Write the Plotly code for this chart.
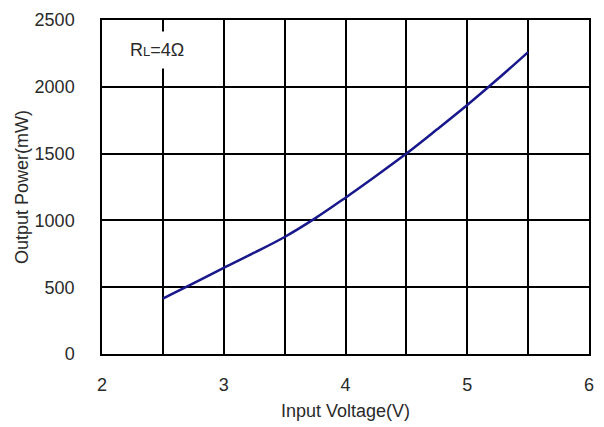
import plotly.graph_objects as go

voltage = [2.5, 2.75, 3.0, 3.25, 3.5, 3.75, 4.0, 4.25, 4.5, 4.75, 5.0, 5.25, 5.5]
power = [415, 528, 645, 758, 876, 1015, 1170, 1332, 1500, 1680, 1864, 2058, 2260]

x_ticks = [2, 3, 4, 5, 6]
y_ticks = [0, 500, 1000, 1500, 2000, 2500]

fig = go.Figure()
fig.add_trace(go.Scatter(x=voltage, y=power, mode="lines",
                         line=dict(color="#18188c", width=2.5, shape="spline"),
                         showlegend=False))

font = dict(family="Liberation Sans, Arial, sans-serif", size=18, color="#2a2a2a")

# the page body adds an 8px offset, so the figure is sized to fit the window
fig.update_layout(
    width=596, height=419,
    margin=dict(l=94, r=15, t=12, b=73),
    paper_bgcolor="white", plot_bgcolor="white",
    font=font,
    xaxis=dict(range=[2, 6], tickvals=x_ticks, automargin=False,
               showgrid=True, gridcolor="black", gridwidth=1.5,
               showline=True, linecolor="black", linewidth=1.5, mirror=True,
               zeroline=False, ticks="", ticklabelstandoff=14,
               title=dict(text="Input Voltage(V)", standoff=10, font=font)),
    yaxis=dict(range=[0, 2500], tickvals=y_ticks, automargin=False,
               showgrid=True, gridcolor="black", gridwidth=1.5,
               showline=True, linecolor="black", linewidth=1.5, mirror=True,
               zeroline=False, ticks="", ticklabelstandoff=22,
               title=dict(text="Output Power(mW)", standoff=1, font=font)),
    annotations=[dict(x=2.45, y=2275, xref="x", yref="y",
                      text="R<span style='font-size:13px'>L</span>=4Ω", showarrow=False,
                      bgcolor="white", font=font, borderpad=8)],
)
# vertical gridlines at half-volt positions
fig.update_xaxes(minor=dict(tickvals=[2.5, 3.5, 4.5, 5.5], showgrid=True,
                            gridcolor="black", gridwidth=1.5))

fig.write_html("out.html")
